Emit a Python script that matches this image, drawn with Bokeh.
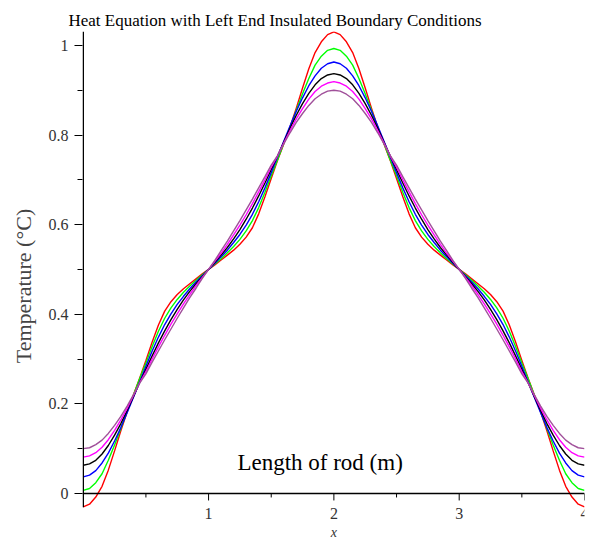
from bokeh.plotting import figure
from bokeh.models import Range1d, FixedTicker, Span
from bokeh.core.properties import value
from bokeh.embed import file_html
from bokeh.resources import INLINE

# positions along the rod (m)
x_pos = [0.00, 0.05, 0.10, 0.15, 0.20, 0.25, 0.30, 0.35, 0.40, 0.45,
         0.50, 0.55, 0.60, 0.65, 0.70, 0.75, 0.80, 0.85, 0.90, 0.95,
         1.00, 1.05, 1.10, 1.15, 1.20, 1.25, 1.30, 1.35, 1.40, 1.45,
         1.50, 1.55, 1.60, 1.65, 1.70, 1.75, 1.80, 1.85, 1.90, 1.95,
         2.00, 2.05, 2.10, 2.15, 2.20, 2.25, 2.30, 2.35, 2.40, 2.45,
         2.50, 2.55, 2.60, 2.65, 2.70, 2.75, 2.80, 2.85, 2.90, 2.95,
         3.00, 3.05, 3.10, 3.15, 3.20, 3.25, 3.30, 3.35, 3.40, 3.45,
         3.50, 3.55, 3.60, 3.65, 3.70, 3.75, 3.80, 3.85, 3.90, 3.95,
         4.00]

temp_red = [-0.030, -0.024, -0.008, 0.016, 0.052, 0.095, 0.140, 0.182, 0.220, 0.257,
            0.297, 0.338, 0.376, 0.407, 0.428, 0.444, 0.457, 0.468, 0.479, 0.490,
            0.500, 0.510, 0.521, 0.532, 0.543, 0.556, 0.572, 0.593, 0.624, 0.662,
            0.703, 0.743, 0.780, 0.818, 0.860, 0.905, 0.948, 0.984, 1.008, 1.024,
            1.030, 1.024, 1.008, 0.984, 0.948, 0.905, 0.860, 0.818, 0.780, 0.743,
            0.703, 0.662, 0.624, 0.593, 0.572, 0.556, 0.543, 0.532, 0.521, 0.510,
            0.500, 0.490, 0.479, 0.468, 0.457, 0.444, 0.428, 0.407, 0.376, 0.338,
            0.297, 0.257, 0.220, 0.182, 0.140, 0.095, 0.052, 0.016, -0.008, -0.024,
            -0.030]

temp_green = [0.007, 0.011, 0.024, 0.044, 0.074, 0.108, 0.145, 0.183, 0.219, 0.256,
              0.291, 0.328, 0.362, 0.391, 0.414, 0.433, 0.449, 0.463, 0.476, 0.488,
              0.500, 0.512, 0.524, 0.537, 0.551, 0.567, 0.586, 0.609, 0.638, 0.672,
              0.709, 0.744, 0.781, 0.817, 0.855, 0.892, 0.926, 0.956, 0.976, 0.989,
              0.993, 0.989, 0.976, 0.956, 0.926, 0.892, 0.855, 0.817, 0.781, 0.744,
              0.709, 0.672, 0.638, 0.609, 0.586, 0.567, 0.551, 0.537, 0.524, 0.512,
              0.500, 0.488, 0.476, 0.463, 0.449, 0.433, 0.414, 0.391, 0.362, 0.328,
              0.291, 0.256, 0.219, 0.183, 0.145, 0.108, 0.074, 0.044, 0.024, 0.011,
              0.007]

temp_blue = [0.037, 0.041, 0.051, 0.068, 0.090, 0.117, 0.147, 0.180, 0.214, 0.249,
             0.284, 0.318, 0.349, 0.377, 0.401, 0.422, 0.440, 0.457, 0.472, 0.486,
             0.500, 0.514, 0.528, 0.543, 0.560, 0.578, 0.599, 0.623, 0.651, 0.682,
             0.716, 0.751, 0.786, 0.820, 0.853, 0.883, 0.910, 0.932, 0.949, 0.959,
             0.963, 0.959, 0.949, 0.932, 0.910, 0.883, 0.853, 0.820, 0.786, 0.751,
             0.716, 0.682, 0.651, 0.623, 0.599, 0.578, 0.560, 0.543, 0.528, 0.514,
             0.500, 0.486, 0.472, 0.457, 0.440, 0.422, 0.401, 0.377, 0.349, 0.318,
             0.284, 0.249, 0.214, 0.180, 0.147, 0.117, 0.090, 0.068, 0.051, 0.041,
             0.037]

temp_black = [0.063, 0.066, 0.074, 0.088, 0.107, 0.130, 0.156, 0.185, 0.216, 0.247,
              0.277, 0.307, 0.336, 0.363, 0.388, 0.411, 0.432, 0.451, 0.468, 0.484,
              0.500, 0.516, 0.532, 0.549, 0.568, 0.589, 0.612, 0.637, 0.664, 0.693,
              0.723, 0.753, 0.784, 0.815, 0.844, 0.870, 0.893, 0.912, 0.926, 0.934,
              0.937, 0.934, 0.926, 0.912, 0.893, 0.870, 0.844, 0.815, 0.784, 0.753,
              0.723, 0.693, 0.664, 0.637, 0.612, 0.589, 0.568, 0.549, 0.532, 0.516,
              0.500, 0.484, 0.468, 0.451, 0.432, 0.411, 0.388, 0.363, 0.336, 0.307,
              0.277, 0.247, 0.216, 0.185, 0.156, 0.130, 0.107, 0.088, 0.074, 0.066,
              0.063]

temp_magenta = [0.081, 0.084, 0.091, 0.103, 0.120, 0.141, 0.164, 0.190, 0.218, 0.247,
                0.272, 0.300, 0.327, 0.353, 0.378, 0.401, 0.423, 0.444, 0.464, 0.482,
                0.500, 0.518, 0.536, 0.556, 0.577, 0.599, 0.622, 0.647, 0.673, 0.700,
                0.728, 0.753, 0.782, 0.810, 0.836, 0.859, 0.880, 0.897, 0.909, 0.916,
                0.919, 0.916, 0.909, 0.897, 0.880, 0.859, 0.836, 0.810, 0.782, 0.753,
                0.728, 0.700, 0.673, 0.647, 0.622, 0.599, 0.577, 0.556, 0.536, 0.518,
                0.500, 0.482, 0.464, 0.444, 0.423, 0.401, 0.378, 0.353, 0.327, 0.300,
                0.272, 0.247, 0.218, 0.190, 0.164, 0.141, 0.120, 0.103, 0.091, 0.084,
                0.081]

temp_purple = [0.100, 0.102, 0.109, 0.119, 0.134, 0.152, 0.172, 0.195, 0.220, 0.246,
               0.267, 0.293, 0.318, 0.343, 0.367, 0.391, 0.414, 0.437, 0.458, 0.480,
               0.500, 0.520, 0.542, 0.563, 0.586, 0.609, 0.633, 0.657, 0.682, 0.707,
               0.733, 0.754, 0.780, 0.805, 0.828, 0.848, 0.866, 0.881, 0.891, 0.898,
               0.900, 0.898, 0.891, 0.881, 0.866, 0.848, 0.828, 0.805, 0.780, 0.754,
               0.733, 0.707, 0.682, 0.657, 0.633, 0.609, 0.586, 0.563, 0.542, 0.520,
               0.500, 0.480, 0.458, 0.437, 0.414, 0.391, 0.367, 0.343, 0.318, 0.293,
               0.267, 0.246, 0.220, 0.195, 0.172, 0.152, 0.134, 0.119, 0.109, 0.102,
               0.100]

series = [temp_red, temp_green, temp_blue, temp_black, temp_magenta, temp_purple]
series_colors = ["#ff0000", "#00ff00", "#0000ff", "#000000", "#ff00ff", "#a0509a"]

x_major = [1, 2, 3, 4]
x_major_labels = ["1", "2", "3", "4"]
x_minor = [0.5, 1.5, 2.5, 3.5]
y_major = [0, 0.2, 0.4, 0.6, 0.8, 1.0]
y_minor = [0.1, 0.3, 0.5, 0.7, 0.9]
y_labels = ["0", "0.2", "0.4", "0.6", "0.8", "1"]

title_text = "Heat Equation with Left End Insulated Boundary Conditions"
inner_text = ["Length of rod (m)"]
inner_x = [1.89]
inner_y = [0.068]

# plotted view of the temperature axis
VIEW_LO, VIEW_HI = -0.031, 1.031
Y_LO, Y_HI = -0.105, 1.031          # extra room below for the x-axis labels
PX_PER_Y = 509 / (Y_HI - Y_LO)

p = figure(width=590, height=540, output_backend="svg", toolbar_location=None,
           x_range=Range1d(-0.006, 4), y_range=Range1d(Y_LO, Y_HI),
           min_border_left=82, min_border_right=6, min_border_top=31, min_border_bottom=0)
p.outline_line_color = None
p.xgrid.visible = False
p.ygrid.visible = False
p.background_fill_color = "white"
p.border_fill_color = "white"

p.title.text = title_text
p.title.text_font = "Liberation Serif"
p.title.text_font_size = "17px"
p.title.text_font_style = "normal"
p.title.text_color = "black"
p.title.align = "left"
p.title.offset = -14
p.title.standoff = 3

for ys, c in zip(series, series_colors):
    p.line(x_pos, ys, line_color=c, line_width=1.4)

p.text(x=inner_x, y=inner_y, text=inner_text, text_font=value("Liberation Serif"),
       text_font_size="23px", text_align="center", text_baseline="middle", text_color="black")

# horizontal axis through temperature 0
p.xaxis.visible = False
p.add_layout(Span(location=0, dimension="width", line_color="black", line_width=1.5))
major_len = 7 / PX_PER_Y
minor_len = 4 / PX_PER_Y
p.segment(x0=x_major, y0=[0] * len(x_major), x1=x_major, y1=[-major_len] * len(x_major),
          line_color="black", line_width=1)
p.segment(x0=x_minor, y0=[0] * len(x_minor), x1=x_minor, y1=[-minor_len] * len(x_minor),
          line_color="black", line_width=1)
p.text(x=x_major, y=[-20.5 / PX_PER_Y] * len(x_major), text=x_major_labels,
       text_font=value("Liberation Sans Narrow"), text_font_size="16px",
       text_align="center", text_baseline="middle", text_color="#333333")
p.text(x=[2], y=[-39.5 / PX_PER_Y], text=["x"], text_font=value("Liberation Serif"),
       text_font_style="italic", text_font_size="14px",
       text_align="center", text_baseline="middle", text_color="#333333")

# vertical axis line over the plotted temperature view
p.segment(x0=[0], y0=[VIEW_LO], x1=[0], y1=[VIEW_HI], line_color="black", line_width=1.5)

ya = p.yaxis[0]
ya.ticker = FixedTicker(ticks=y_major, minor_ticks=y_minor)
ya.major_label_overrides = {t: s for t, s in zip(y_major, y_labels)}
ya.axis_line_color = None
ya.major_tick_in = 0
ya.major_tick_out = 8
ya.minor_tick_in = 0
ya.minor_tick_out = 5
ya.major_tick_line_color = "black"
ya.minor_tick_line_color = "black"
ya.major_label_text_font = "Liberation Sans Narrow"
ya.major_label_text_font_size = "16px"
ya.major_label_text_color = "#333333"
ya.major_label_standoff = 6
ya.axis_label = "Temperature (\u00b0C)"
ya.axis_label_text_font = "Liberation Serif"
ya.axis_label_text_font_style = "normal"
ya.axis_label_text_font_size = "22px"
ya.axis_label_standoff = 10

open("out.html", "w").write(file_html(p, INLINE))
